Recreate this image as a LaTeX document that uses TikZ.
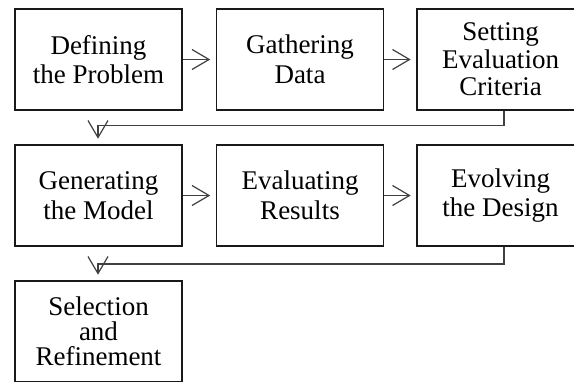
\documentclass[tikz,border=0pt]{standalone}
\usepackage{fontspec}
\setmainfont{Liberation Serif}
\usetikzlibrary{arrows.meta}
\begin{document}
\begin{tikzpicture}[x=1pt,y=-1pt,
  stepbox/.style={draw=black!90, line width=1.6pt, minimum width=167pt, minimum height=101pt,
    inner sep=0pt, align=center, font=\fontsize{27}{29.5}\selectfont},
  arr/.style={draw=black!75, line width=1.2pt,
    -{Straight Barb[length=17pt,width=20pt,line width=1.2pt]}, shorten >=5.5pt}]
\clip (0,0) rectangle (574,381);
\fill[white] (0,0) rectangle (574,381);
\node[stepbox] (b1) at (98.5,59.5) {Defining\\the Problem};
\node[stepbox] (b2) at (300,59.5) {Gathering\\Data};
\node[stepbox, font=\fontsize{27}{27.5}\selectfont] (b3) at (500.5,59.5) {Setting\\Evaluation\\Criteria};
\node[stepbox] (b4) at (98.5,195.5) {Generating\\the Model};
\node[stepbox] (b5) at (300,195.5) {Evaluating\\Results};
\node[stepbox] (b6) at (500.5,195.5) {Evolving\\the Design};
\node[stepbox, font=\fontsize{27}{25}\selectfont] (b7) at (98.5,331.5) {Selection\\and\\Refinement};
\draw[arr] (b1.east) -- (b2.west);
\draw[arr] (b2.east) -- (b3.west);
\draw[arr] (b4.east) -- (b5.west);
\draw[arr] (b5.east) -- (b6.west);
\coordinate (c1) at (98,125.5);
\coordinate (c2) at (98,264);
\draw[arr] ([xshift=3.5pt]b3.south) |- (c1) -- (c1 |- b4.north);
\draw[arr] ([xshift=3.5pt]b6.south) |- (c2) -- (c2 |- b7.north);
\end{tikzpicture}
\end{document}
